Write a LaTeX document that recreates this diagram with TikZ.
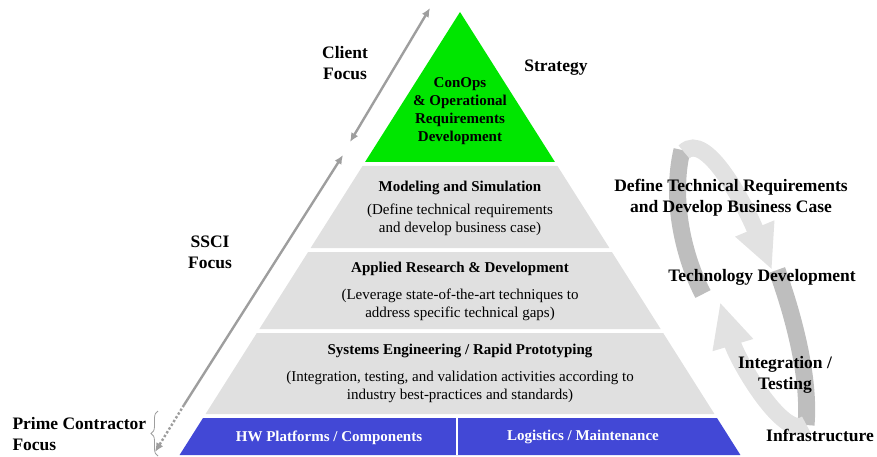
\documentclass[tikz,border=0pt]{standalone}
\usepackage{fontspec}
\setmainfont{Liberation Serif}
\usetikzlibrary{arrows.meta,decorations.pathreplacing}

\definecolor{layergreen}{RGB}{0,230,0}
\definecolor{layergray}{RGB}{224,224,224}
\definecolor{layerblue}{RGB}{66,72,214}
\definecolor{focusgray}{RGB}{158,158,158}
\definecolor{loopdark}{RGB}{190,190,190}
\definecolor{looplight}{RGB}{226,226,226}

\tikzset{
	layertitle/.style={font=\fontsize{15}{18}\selectfont\bfseries, align=center},
	layertext/.style={font=\fontsize{15}{17.5}\selectfont, align=center},
	sidelabel/.style={font=\fontsize{17.5}{21}\selectfont\bfseries, align=center},
	focusarrow/.style={draw=focusgray, line width=2.4pt},
	loopstrip/.style={draw=loopdark, line width=17pt},
	looparrow/.style={draw=looplight, line width=17pt, -{Triangle[width=39pt,length=45pt]}}
}

\begin{document}
\begin{tikzpicture}[x=1pt, y=-1pt]

		\useasboundingbox (0,0) rectangle (877,457);

		\pgfmathsetmacro{\apexx}{460}
		\pgfmathsetmacro{\apexy}{12}
		\pgfmathsetmacro{\slope}{0.633}

		% draw the loop on the right
		\draw[loopstrip] (682,150) .. controls (670,200) and (684,258) .. (703,294);
		\draw[loopstrip] (777,270) .. controls (795,320) and (810,380) .. (806,425);
		\draw[looparrow] (684,152) .. controls (706,130) and (745,205) .. (772,270);
		\draw[looparrow] (806,424) .. controls (785,442) and (738,362) .. (720,302);

		% draw the layers of the pyramid
		\foreach \ytop/\ybot/\col in {12/162/layergreen, 166/248/layergray, 252/329/layergray, 333/414/layergray, 418/455/layerblue}
		{
			\pgfmathsetmacro{\halftop}{\slope * (\ytop - \apexy)}
			\pgfmathsetmacro{\halfbot}{\slope * (\ybot - \apexy)}
			\fill[\col] (\apexx - \halftop, \ytop) -- (\apexx + \halftop, \ytop) --
				(\apexx + \halfbot, \ybot) -- (\apexx - \halfbot, \ybot) -- cycle;
		}
		\draw[white, line width=1.2pt] (457,418) -- (457,455);

		% texts in the layers
		\node[layertitle] (conops) at (460,111) {ConOps\\ \& Operational\\ Requirements\\ Development};
		\node[layertitle] (modeling) at (460,188) {Modeling and Simulation};
		\node[layertext] (modelingtext) at (460,220) {(Define technical requirements\\ and develop business case)};
		\node[layertitle] (applied) at (460,269) {Applied Research \& Development};
		\node[layertext] (appliedtext) at (460,305) {(Leverage state-of-the-art techniques to\\ address specific technical gaps)};
		\node[layertitle] (systems) at (460,351) {Systems Engineering / Rapid Prototyping};
		\node[layertext] (systemstext) at (460,387) {(Integration, testing, and validation activities according to\\ industry best-practices and standards)};
		\node[layertitle, text=white] (hw) at (329,438) {HW Platforms / Components};
		\node[layertitle, text=white] (logistics) at (583,437) {Logistics / Maintenance};

		% labels round the pyramid
		\node[sidelabel] (client) at (345,63) {Client\\ Focus};
		\node[sidelabel] (strategy) at (556,68) {Strategy};
		\node[sidelabel] (ssci) at (210,252) {SSCI\\ Focus};
		\node[sidelabel, anchor=west, align=left] (prime) at (9,434) {Prime Contractor\\ Focus};
		\node[sidelabel] (define) at (731,198) {Define Technical Requirements\\ and Develop Business Case};
		\node[sidelabel] (techdev) at (762,277) {Technology Development};
		\node[sidelabel] (integration) at (785,375) {Integration /\\ Testing};
		\node[sidelabel] (infra) at (820,435) {Infrastructure};

		% focus arrows along the left side
		\coordinate (clienttop) at (430,8);
		\coordinate (clientbot) at (350,142);
		\coordinate (sscitop) at (343,155);
		\coordinate (sscibot) at (184,405);
		\coordinate (primebot) at (155,452);
		\draw[focusarrow, {Latex[length=9pt,width=8pt]}-{Latex[length=9pt,width=8pt]}] (clientbot) -- (clienttop);
		\draw[focusarrow, {Latex[length=9pt,width=8pt]}-] (sscitop) -- (sscibot);
		\draw[focusarrow, dash pattern=on 2.4pt off 2pt, -{Latex[length=9pt,width=8pt]}] (sscibot) -- (primebot);
		\draw[focusgray, thick, decorate, decoration={brace, amplitude=7pt}] (158,456) -- (158,411);

	\end{tikzpicture}
\end{document}
